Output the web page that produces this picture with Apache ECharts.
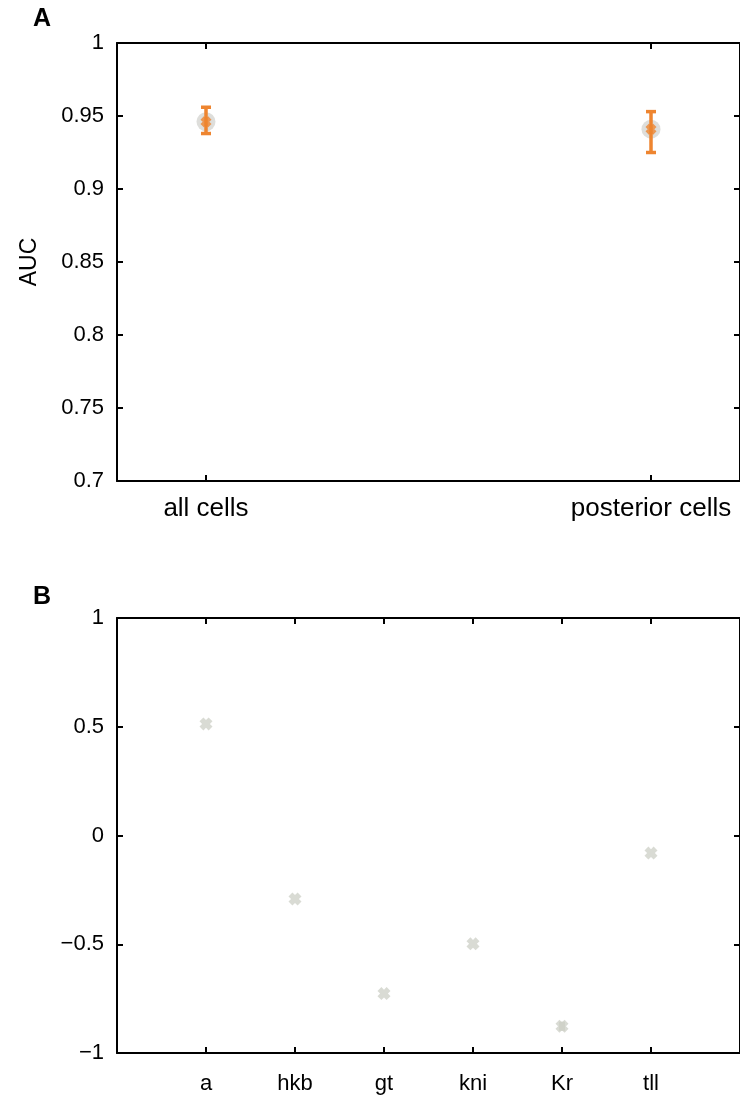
<!DOCTYPE html>
<html>
<head>
<meta charset="utf-8">
<script src="https://cdn.jsdelivr.net/npm/echarts@6/dist/echarts.min.js"></script>
<style>
html,body{margin:0;padding:0;background:#fff;}
#chart{width:740px;height:1095px;}
</style>
</head>
<body>
<div id="chart"></div>
<script>
// ---- Data ----
const catsA = ['all cells', 'posterior cells'];
const aucMean = [0.946, 0.941];
const aucLow = [0.938, 0.925];
const aucHigh = [0.956, 0.953];
const yTicksA = [0.7, 0.75, 0.8, 0.85, 0.9, 0.95, 1];

const catsB = ['a', 'hkb', 'gt', 'kni', 'Kr', 'tll'];
const valsB = [0.513, -0.292, -0.727, -0.498, -0.877, -0.081];
const lowB = [0.513, -0.292, -0.727, -0.498, -0.898, -0.081];
const highB = [0.513, -0.292, -0.727, -0.498, -0.856, -0.081];
const yTicksB = [-1, -0.5, 0, 0.5, 1];

// ---- Styles ----
const FONT = 'Liberation Sans, Arial, Helvetica, sans-serif';
const ORANGE = '#ee8530';
const GREY = '#d0d2c9';
const GREY_CIRCLE = '#d6d6d2';
const XPATH = 'path://M3,0 L5,2 L7,0 L10,3 L8,5 L10,7 L7,10 L5,8 L3,10 L0,7 L2,5 L0,3 Z';

const chart = echarts.init(document.getElementById('chart'), null, {renderer: 'canvas'});

function fmt(v) {
  const s = String(parseFloat(v.toFixed(2)));
  return s.replace('-', '\u2212');
}

const lineStyle = {color: '#000', width: 2};
const tickStyle = {show: true, inside: true, length: 6, lineStyle: {color: '#000', width: 2}};

function xAxes(gridIndex, min, max, ticks, labelFn, fontSize, margin) {
  return [
    {
      type: 'value', gridIndex, min, max, position: 'bottom',
      axisLine: {show: true, onZero: false, lineStyle},
      axisTick: Object.assign({customValues: ticks}, tickStyle),
      axisLabel: {show: true, customValues: ticks, formatter: labelFn, color: '#000',
                  fontFamily: FONT, fontSize, margin},
      splitLine: {show: false}
    },
    {
      type: 'value', gridIndex, min, max, position: 'top',
      axisLine: {show: true, onZero: false, lineStyle},
      axisTick: Object.assign({customValues: ticks}, tickStyle),
      axisLabel: {show: false},
      splitLine: {show: false}
    }
  ];
}

function yAxes(gridIndex, ticks, name) {
  const min = ticks[0], max = ticks[ticks.length - 1];
  return [
    {
      type: 'value', gridIndex, min, max, position: 'left',
      name: name || '', nameLocation: 'middle', nameGap: 76,
      nameTextStyle: {color: '#000', fontFamily: FONT, fontSize: 23},
      axisLine: {show: true, onZero: false, lineStyle},
      axisTick: Object.assign({customValues: ticks}, tickStyle),
      axisLabel: {show: true, customValues: ticks, formatter: fmt, color: '#000',
                  fontFamily: FONT, fontSize: 22, margin: 13},
      splitLine: {show: false}
    },
    {
      type: 'value', gridIndex, min, max, position: 'right',
      axisLine: {show: true, onZero: false, lineStyle},
      axisTick: Object.assign({customValues: ticks}, tickStyle),
      axisLabel: {show: false},
      splitLine: {show: false}
    }
  ];
}

const posA = catsA.map((c, i) => i + 1);
const posB = catsB.map((c, i) => i + 1);

function errRender(color, lw, capW) {
  return function (params, api) {
    const x = api.value(0);
    const p1 = api.coord([x, api.value(1)]);
    const p2 = api.coord([x, api.value(2)]);
    const children = [
      {type: 'line', shape: {x1: p1[0], y1: p1[1], x2: p2[0], y2: p2[1]},
       style: {stroke: color, lineWidth: lw}}
    ];
    if (capW > 0) {
      children.push({type: 'line', shape: {x1: p1[0] - capW / 2, y1: p1[1], x2: p1[0] + capW / 2, y2: p1[1]},
                     style: {stroke: color, lineWidth: lw}});
      children.push({type: 'line', shape: {x1: p2[0] - capW / 2, y1: p2[1], x2: p2[0] + capW / 2, y2: p2[1]},
                     style: {stroke: color, lineWidth: lw}});
    }
    return {type: 'group', children};
  };
}

const option = {
  backgroundColor: '#fff',
  animation: false,
  grid: [
    {left: 117, top: 43, width: 626, height: 438},
    {left: 117, top: 618, width: 626, height: 437}
  ],
  xAxis: [
    ...xAxes(0, 0.8, 2.2, posA, v => catsA[Math.round(v) - 1] || '', 26, 15),
    ...xAxes(1, 0, 7, posB, v => catsB[Math.round(v) - 1] || '', 22, 20)
  ],
  yAxis: [
    ...yAxes(0, yTicksA, 'AUC'),
    ...yAxes(1, yTicksB, '')
  ],
  graphic: [
    {type: 'text', left: 33, top: 7, style: {text: 'A', font: 'bold 25px ' + FONT, fill: '#000'}},
    {type: 'text', left: 33, top: 585, style: {text: 'B', font: 'bold 25px ' + FONT, fill: '#000'}}
  ],
  series: [
    {
      type: 'scatter', xAxisIndex: 0, yAxisIndex: 0, symbol: 'circle', symbolSize: 19,
      itemStyle: {color: GREY_CIRCLE}, z: 2,
      data: posA.map((x, i) => [x, aucMean[i]])
    },
    {
      type: 'custom', xAxisIndex: 0, yAxisIndex: 0, z: 3,
      renderItem: errRender(ORANGE, 3.5, 10),
      data: posA.map((x, i) => [x, aucLow[i], aucHigh[i]])
    },
    {
      type: 'scatter', xAxisIndex: 0, yAxisIndex: 0, symbol: XPATH, symbolSize: 11,
      itemStyle: {color: ORANGE}, z: 4,
      data: posA.map((x, i) => [x, aucMean[i]])
    },
    {
      type: 'custom', xAxisIndex: 2, yAxisIndex: 2, z: 3,
      renderItem: errRender(GREY, 6, 0),
      data: posB.map((x, i) => [x, lowB[i], highB[i]])
    },
    {
      type: 'scatter', xAxisIndex: 2, yAxisIndex: 2, symbol: XPATH, symbolSize: 13,
      itemStyle: {color: GREY}, z: 4,
      data: posB.map((x, i) => [x, valsB[i]])
    }
  ]
};
chart.setOption(option);
</script>
</body>
</html>
